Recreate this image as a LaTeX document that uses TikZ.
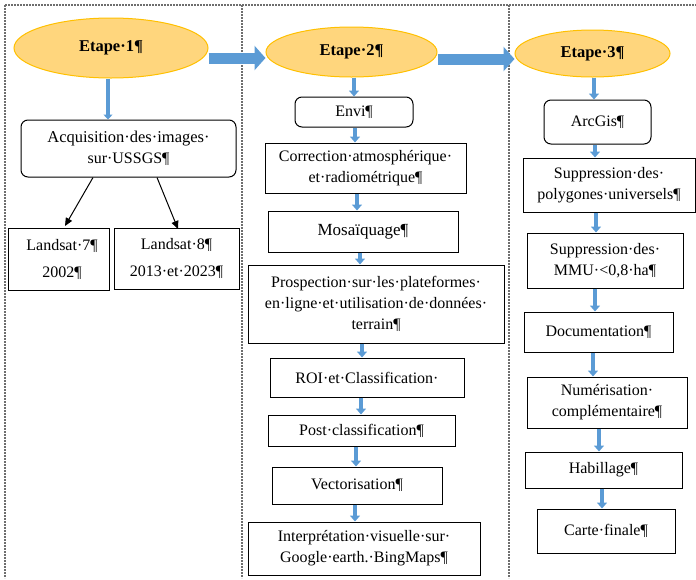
\documentclass[tikz,border=0pt]{standalone}
\usepackage{fontspec}
\setmainfont{Liberation Serif}
\usetikzlibrary{arrows.meta,shapes.geometric}
\definecolor{ablue}{RGB}{91,155,213}
\definecolor{efill}{RGB}{255,214,125}
\definecolor{edraw}{RGB}{255,192,0}
\definecolor{frame}{RGB}{110,110,110}
\tikzset{
  box/.style={draw=black, line width=1pt, fill=white, align=center, inner sep=0pt, font=\fontsize{16}{21}\selectfont},
  rbox/.style={box, rounded corners=7pt},
  etape/.style={ellipse, draw=edraw, fill=efill, line width=1pt, inner sep=0pt, font=\fontsize{16.5}{20}\selectfont\bfseries},
  bluearr/.style={draw=ablue, line width=4pt, -{Triangle[width=10pt,length=6pt]}},
  thinblue/.style={draw=ablue, line width=3.5pt, -{Triangle[width=9pt,length=5pt]}},
  bigarr/.style={draw=ablue, line width=11pt, -{Triangle[width=24pt,length=11pt]}},
  blackarr/.style={draw=black, line width=1pt, -{Triangle[width=7pt,length=8pt]}},
  framel/.style={draw=frame, line width=1.2pt, dash pattern=on 2pt off 1pt}
}
\begin{document}
\begin{tikzpicture}[x=1pt,y=-1pt]
\useasboundingbox (0,0) rectangle (696,579);
% frame
\draw[framel] (5,5) -- (696,5);
\draw[framel] (5,5) -- (5,578);
\draw[framel] (242,5) -- (242,578);
\draw[framel] (509,5) -- (509,578);
% column 1
\node[etape, minimum width=194pt, minimum height=60pt] (e1) at (111,48) {Etape·1¶};
\node[rbox, minimum width=215pt, minimum height=57pt] (acq) at (128.5,148.5) {\fontsize{16.5}{21}\selectfont Acquisition·des·images·\\sur·USSGS¶};
\node[box, minimum width=101pt, minimum height=62pt] (l7) at (59,259) {\hspace*{6pt}Landsat·7¶\\[6pt]\hspace*{6pt}2002¶};
\node[box, minimum width=125pt, minimum height=61pt] (l8) at (176.5,258.5) {Landsat·8¶\\[6pt]2013·et·2023¶};
\draw[thinblue] (e1.south -| 108,0) -- (acq.north -| 108,0);
\draw[blackarr] (acq.south -| 93,0) -- (65,226);
\draw[blackarr] (acq.south -| 157,0) -- (178,229);
% column 2
\node[etape, minimum width=171pt, minimum height=50pt] (e2) at (351.5,52) {Etape·2¶};
\node[rbox, minimum width=118pt, minimum height=30pt] (envi) at (354,112) {Envi¶};
\node[box, minimum width=201pt, minimum height=50pt] (corr) at (365.5,168) {Correction·atmosphérique·\\et·radiométrique¶};
\node[box, minimum width=190pt, minimum height=41pt] (mosa) at (363,231.5) {\fontsize{17}{21}\selectfont Mosaïquage¶};
\node[box, minimum width=256pt, minimum height=78pt] (prosp) at (376,304) {Prospection·sur·les·plateformes·\\en·ligne·et·utilisation·de·données·\\terrain¶};
\node[box, minimum width=194pt, minimum height=39pt] (roi) at (367,377.5) {ROI·et·Classification·};
\node[box, minimum width=187pt, minimum height=31pt] (post) at (361.5,430.5) {Post·classification¶};
\node[box, minimum width=170pt, minimum height=37pt] (vect) at (357,485.5) {Vectorisation¶};
\node[box, minimum width=232pt, minimum height=53pt] (interp) at (364,548.5) {Interprétation·visuelle·sur·\\Google·earth.·BingMaps¶};
\draw[bluearr] (e2.south -| 354,0) -- (envi.north -| 354,0);
\draw[bluearr] (envi.south -| 355,0) -- (corr.north -| 355,0);
\draw[bluearr] (corr.south -| 357,0) -- (mosa.north -| 357,0);
\draw[bluearr] (mosa.south -| 360,0) -- (prosp.north -| 360,0);
\draw[bluearr] (prosp.south -| 362,0) -- (roi.north -| 362,0);
\draw[bluearr] (roi.south -| 361,0) -- (post.north -| 361,0);
\draw[bluearr] (post.south -| 356,0) -- (vect.north -| 356,0);
\draw[bluearr] (vect.south -| 355,0) -- (interp.north -| 355,0);
% column 3
\node[etape, minimum width=155pt, minimum height=47pt] (e3) at (592.5,53.5) {Etape·3¶};
\node[rbox, minimum width=107pt, minimum height=44pt] (arc) at (597.5,122) {ArcGis¶};
\node[box, minimum width=172pt, minimum height=54pt] (supp1) at (609,185) {Suppression·des·\\polygones·universels¶};
\node[box, minimum width=156pt, minimum height=55pt] (supp2) at (605,260.5) {Suppression·des·\\MMU·<0,8·ha¶};
\node[box, minimum width=149pt, minimum height=40pt] (doc) at (598.5,332) {Documentation¶};
\node[box, minimum width=160pt, minimum height=51pt] (num) at (607,402.5) {Numérisation·\\complémentaire¶};
\node[box, minimum width=157pt, minimum height=36pt] (hab) at (603.5,470) {Habillage¶};
\node[box, minimum width=138pt, minimum height=44pt] (carte) at (606,531) {Carte·finale¶};
\draw[bluearr] (e3.south -| 594,0) -- (arc.north -| 594,0);
\draw[bluearr] (arc.south -| 595,0) -- (supp1.north -| 595,0);
\draw[bluearr] (supp1.south -| 596,0) -- (supp2.north -| 596,0);
\draw[bluearr] (supp2.south -| 595,0) -- (doc.north -| 595,0);
\draw[bluearr] (doc.south -| 593,0) -- (num.north -| 593,0);
\draw[bluearr] (num.south -| 599,0) -- (hab.north -| 599,0);
\draw[bluearr] (hab.south -| 602,0) -- (carte.north -| 602,0);
% big arrows between steps
\draw[bigarr] (e1.east |- 0,58) -- (e2.west |- 0,58);
\draw[bigarr] (e2.east |- 0,59) -- (e3.west |- 0,59);
\end{tikzpicture}
\end{document}
